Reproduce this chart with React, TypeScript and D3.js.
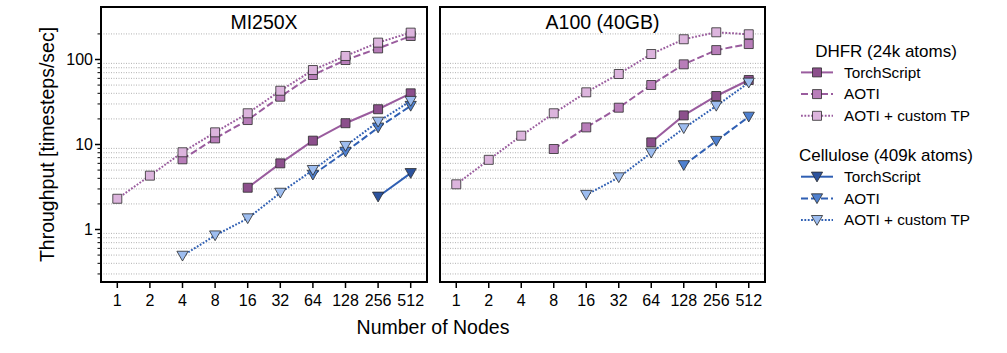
import { useEffect, useRef } from "react";
import * as d3 from "d3";

const NODES = [1, 2, 4, 8, 16, 32, 64, 128, 256, 512];
const PANELS = ["MI250X", "A100 (40GB)"];
const SERIES_LABELS = ["TorchScript", "AOTI", "AOTI + custom TP"];
const SYSTEMS = ["DHFR (24k atoms)", "Cellulose (409k atoms)"];

// MI250X
const MI_DHFR_TS = [null, null, null, null, 3.1, 6.0, 11.1, 17.8, 26, 40];
const MI_DHFR_AOTI = [null, null, 6.7, 11.8, 19.4, 36.5, 65.7, 98.6, 135, 189];
const MI_DHFR_TP = [2.3, 4.3, 8.1, 13.9, 23.3, 42.9, 75.2, 110, 158, 207];
const MI_CELL_TS = [null, null, null, null, null, null, null, null, 2.43, 4.6];
const MI_CELL_AOTI = [null, null, null, null, null, null, 4.4, 8.2, 15.8, 28.4];
const MI_CELL_TP = [null, null, 0.49, 0.85, 1.35, 2.7, 5.0, 9.6, 18.5, 32.5];

// A100
const A_DHFR_TS = [null, null, null, null, null, null, 10.6, 22, 37.2, 57.4];
const A_DHFR_AOTI = [null, null, null, 8.85, 15.9, 27.1, 50.1, 87.7, 129, 152];
const A_DHFR_TP = [3.4, 6.6, 12.7, 23.3, 41.1, 67.5, 116, 173, 209, 198];
const A_CELL_TS: (number | null)[] = [null, null, null, null, null, null, null, null, null, null];
const A_CELL_AOTI = [null, null, null, null, null, null, null, 5.7, 11, 21.2];
const A_CELL_TP = [null, null, null, null, 2.55, 4.1, 8.0, 15.5, 28.4, 53.3];

const PANEL_DATA = [
  [MI_DHFR_TS, MI_DHFR_AOTI, MI_DHFR_TP, MI_CELL_TS, MI_CELL_AOTI, MI_CELL_TP],
  [A_DHFR_TS, A_DHFR_AOTI, A_DHFR_TP, A_CELL_TS, A_CELL_AOTI, A_CELL_TP],
];

const MAJOR_Y = [1, 10, 100];
const MINOR_Y = [0.3, 0.4, 0.5, 0.6, 0.7, 0.8, 0.9, 2, 3, 4, 5, 6, 7, 8, 9, 20, 30, 40, 50, 60, 70, 80, 90, 200];

const FONT = "'Liberation Sans', Arial, Helvetica, sans-serif";
const LINE_COLORS = ["#9a5c9e", "#2f5fb3"];
const FILLS = [
  ["#8c4f8c", "#b87db9", "#dcb4dd"],
  ["#2c539e", "#4e80cf", "#9dbdf0"],
];
const DASHES = ["none", "7,3", "1.8,1.6"];

const TOP = 7;
const BOTTOM = 282;
const PANEL_X = [
  [101, 427],
  [440, 765],
];

const App = () => {
  const svgRef = useRef<SVGSVGElement | null>(null);

  useEffect(() => {
    if (!svgRef.current) return;
    const svg = d3.select(svgRef.current);
    svg.selectAll("*").remove();

    const y = d3
      .scaleLog()
      .domain([Math.pow(10, -0.6176), Math.pow(10, 2.6176)])
      .range([BOTTOM, TOP]);

    const square = d3.symbol().type(d3.symbolSquare).size(81);
    const tri = "M0,5.2L-5.6,-4.6L5.6,-4.6Z";

    PANEL_DATA.forEach((series, p) => {
      const [x0, x1] = PANEL_X[p];
      const x = d3
        .scaleLog()
        .base(2)
        .domain([Math.pow(2, -0.5), Math.pow(2, 9.5)])
        .range([x0, x1]);

      const g = svg.append("g");

      // minor grid
      g.selectAll(".grid")
        .data(MINOR_Y)
        .join("line")
        .attr("x1", x0)
        .attr("x2", x1)
        .attr("y1", (v) => y(v))
        .attr("y2", (v) => y(v))
        .attr("stroke", "#a8a8a8")
        .attr("stroke-width", 0.9)
        .attr("stroke-dasharray", "1,1.5");

      // series
      series.forEach((vals, s) => {
        const sys = Math.floor(s / 3);
        const k = s % 3;
        const pts = NODES.map((n, i) => ({ n, v: vals[i] })).filter(
          (d) => d.v != null
        ) as { n: number; v: number }[];
        if (pts.length === 0) return;
        const line = d3
          .line<{ n: number; v: number }>()
          .x((d) => x(d.n))
          .y((d) => y(d.v));
        g.append("path")
          .attr("d", line(pts))
          .attr("fill", "none")
          .attr("stroke", LINE_COLORS[sys])
          .attr("stroke-width", 2)
          .attr("stroke-dasharray", DASHES[k]);
        g.selectAll(null)
          .data(pts)
          .join("path")
          .attr("d", sys === 0 ? square() : tri)
          .attr("transform", (d) => `translate(${x(d.n)},${y(d.v)})`)
          .attr("fill", FILLS[sys][k])
          .attr("stroke", "#2b2b2b")
          .attr("stroke-opacity", 0.8)
          .attr("stroke-width", 1);
      });

      // frame
      g.append("rect")
        .attr("x", x0)
        .attr("y", TOP)
        .attr("width", x1 - x0)
        .attr("height", BOTTOM - TOP)
        .attr("fill", "none")
        .attr("stroke", "#000")
        .attr("stroke-width", 2);

      // title
      g.append("text")
        .attr("x", (x0 + x1) / 2)
        .attr("y", 29)
        .attr("text-anchor", "middle")
        .attr("font-size", 19.5)
        .attr("font-family", FONT)
        .text(PANELS[p]);

      // x ticks
      g.selectAll(".xt")
        .data(NODES)
        .join("line")
        .attr("x1", (n) => x(n))
        .attr("x2", (n) => x(n))
        .attr("y1", BOTTOM)
        .attr("y2", BOTTOM + 6)
        .attr("stroke", "#000")
        .attr("stroke-width", 1.5);
      g.selectAll(".xl")
        .data(NODES)
        .join("text")
        .attr("x", (n) => x(n))
        .attr("y", 306)
        .attr("text-anchor", "middle")
        .attr("font-size", 16)
        .attr("font-family", FONT)
        .text((n) => String(n));

      if (p === 0) {
        g.selectAll(".ymaj")
          .data(MAJOR_Y)
          .join("line")
          .attr("x1", x0 - 6)
          .attr("x2", x0)
          .attr("y1", (v) => y(v))
          .attr("y2", (v) => y(v))
          .attr("stroke", "#000")
          .attr("stroke-width", 1.5);
        g.selectAll(".ymin")
          .data(MINOR_Y)
          .join("line")
          .attr("x1", x0 - 3.5)
          .attr("x2", x0)
          .attr("y1", (v) => y(v))
          .attr("y2", (v) => y(v))
          .attr("stroke", "#000")
          .attr("stroke-width", 1);
        g.selectAll(".yl")
          .data(MAJOR_Y)
          .join("text")
          .attr("x", x0 - 8)
          .attr("y", (v) => y(v) + 5.8)
          .attr("text-anchor", "end")
          .attr("font-size", 16)
          .attr("font-family", FONT)
          .text((v) => String(v));
      }
    });

    // axis labels
    svg
      .append("text")
      .attr("x", (PANEL_X[0][0] + PANEL_X[1][1]) / 2)
      .attr("y", 334)
      .attr("text-anchor", "middle")
      .attr("font-size", 19.5)
      .attr("font-family", FONT)
      .text("Number of Nodes");
    svg
      .append("text")
      .attr("transform", `translate(54,${(TOP + BOTTOM) / 2}) rotate(-90)`)
      .attr("text-anchor", "middle")
      .attr("font-size", 19.5)
      .attr("font-family", FONT)
      .text("Throughput [timesteps/sec]");

    // legend
    const lg = svg.append("g");
    const titleY = [50.7, 155];
    SYSTEMS.forEach((name, sys) => {
      lg.append("text")
        .attr("x", 886)
        .attr("y", titleY[sys] + 6)
        .attr("text-anchor", "middle")
        .attr("font-size", 17)
        .attr("font-family", FONT)
        .text(name);
      SERIES_LABELS.forEach((lab, k) => {
        const cy = titleY[sys] + 21.7 * (k + 1);
        lg.append("line")
          .attr("x1", 801)
          .attr("x2", 833)
          .attr("y1", cy)
          .attr("y2", cy)
          .attr("stroke", LINE_COLORS[sys])
          .attr("stroke-width", 2)
          .attr("stroke-dasharray", DASHES[k]);
        lg.append("path")
          .attr("d", sys === 0 ? square() : tri)
          .attr("transform", `translate(817,${cy})`)
          .attr("fill", FILLS[sys][k])
          .attr("stroke", "#2b2b2b")
          .attr("stroke-opacity", 0.8)
          .attr("stroke-width", 1);
        lg.append("text")
          .attr("x", 844)
          .attr("y", cy + 5.3)
          .attr("font-size", 15.3)
          .attr("font-family", FONT)
          .text(lab);
      });
    });
  }, []);

  return (
    <svg
      ref={svgRef}
      width={1007}
      height={353}
      style={{ position: "absolute", left: 0, top: 0, background: "#fff" }}
    />
  );
};

export default App;
